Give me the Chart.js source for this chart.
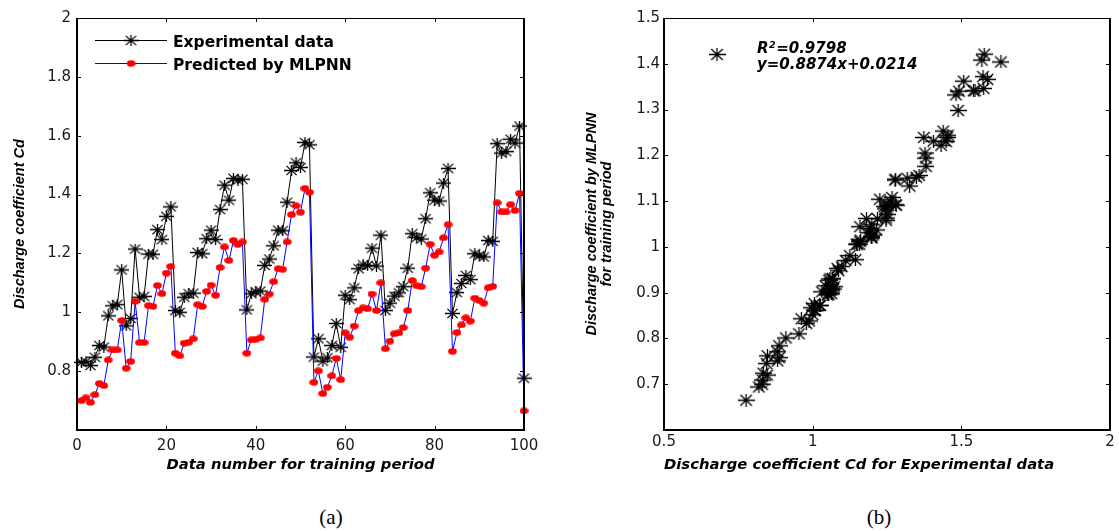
<!DOCTYPE html>
<html>
<head>
<meta charset="utf-8">
<script src="https://cdn.jsdelivr.net/npm/chart.js@4.4.0/dist/chart.umd.min.js"></script>
<style>
  html, body { margin: 0; padding: 0; background: #fff; }
  #wrap { position: relative; width: 1119px; height: 531px; overflow: hidden; }
  canvas { position: absolute; top: 0; }
  #chartA { left: 0; }
  #chartB { left: 560px; }
  .cap { position: absolute; font-family: "Liberation Serif", "Times New Roman", serif; font-size: 21px; line-height: 21px; color: #000; transform: translateX(-50%); white-space: nowrap; }
</style>
</head>
<body>
<div id="wrap">
  <canvas id="chartA" width="560" height="490"></canvas>
  <canvas id="chartB" width="559" height="490"></canvas>
  <div class="cap" style="left:331px; top:507px;">(a)</div>
  <div class="cap" style="left:879px; top:507px;">(b)</div>
</div>
<script>
// Training samples 1..100
const sampleNo = Array.from({ length: 100 }, (_, i) => i + 1);

// Discharge coefficient Cd measured in the lab
const experimentalCd = [
  0.830, 0.832, 0.819, 0.847, 0.887, 0.882, 0.988, 1.022, 1.026, 1.144,
  0.954, 0.979, 1.215, 1.051, 1.054, 1.198, 1.197, 1.281, 1.247, 1.326,
  1.358, 1.006, 1.000, 1.051, 1.063, 1.065, 1.203, 1.199, 1.250, 1.279,
  1.247, 1.349, 1.432, 1.381, 1.455, 1.449, 1.452, 1.008, 1.063, 1.070,
  1.072, 1.159, 1.181, 1.226, 1.279, 1.277, 1.374, 1.482, 1.508, 1.492,
  1.577, 1.569, 0.848, 0.910, 0.834, 0.845, 0.887, 0.962, 0.881, 1.058,
  1.043, 1.083, 1.148, 1.161, 1.159, 1.218, 1.157, 1.262, 1.006, 1.031,
  1.055, 1.066, 1.087, 1.150, 1.267, 1.254, 1.249, 1.318, 1.406, 1.381,
  1.378, 1.439, 1.489, 0.996, 1.067, 1.098, 1.125, 1.111, 1.199, 1.192,
  1.188, 1.244, 1.241, 1.573, 1.541, 1.546, 1.588, 1.575, 1.633, 0.776
];

// Cd predicted by the MLPNN model
const predictedCd = [
  0.700, 0.709, 0.694, 0.720, 0.758, 0.751, 0.838, 0.872, 0.872, 0.972,
  0.810, 0.833, 1.037, 0.897, 0.897, 1.023, 1.020, 1.091, 1.063, 1.133,
  1.156, 0.861, 0.852, 0.895, 0.898, 0.910, 1.026, 1.020, 1.071, 1.092,
  1.058, 1.152, 1.222, 1.176, 1.244, 1.230, 1.239, 0.861, 0.906, 0.908,
  0.913, 1.044, 1.062, 1.104, 1.148, 1.146, 1.239, 1.332, 1.362, 1.340,
  1.421, 1.408, 0.762, 0.801, 0.724, 0.745, 0.784, 0.843, 0.771, 0.930,
  0.915, 0.953, 1.006, 1.015, 1.012, 1.062, 1.006, 1.100, 0.876, 0.902,
  0.927, 0.930, 0.948, 1.006, 1.108, 1.090, 1.087, 1.150, 1.231, 1.194,
  1.205, 1.253, 1.298, 0.867, 0.931, 0.957, 0.981, 0.970, 1.048, 1.040,
  1.031, 1.083, 1.088, 1.372, 1.341, 1.341, 1.366, 1.346, 1.404, 0.665
];

// linear fit of predicted vs experimental
const rSquared = 0.9798;
const fitSlope = 0.8874;
const fitIntercept = 0.0214;

// axis ticks
const sampleTicks = [0, 20, 40, 60, 80, 100];
const cdTicksA = [0.6, 0.8, 1, 1.2, 1.4, 1.6, 1.8, 2];
const cdTicksX = [0.5, 1, 1.5, 2];
const cdTicksY = [0.6, 0.7, 0.8, 0.9, 1, 1.1, 1.2, 1.3, 1.4, 1.5];

const TICK_FONT = { family: '"DejaVu Sans", sans-serif', size: 15 };
const TITLE_X_FONT = { family: '"DejaVu Sans", sans-serif', size: 14.8, weight: 'bold', style: 'italic' };
const TITLE_Y_FONT = { family: '"Liberation Sans", Arial, sans-serif', size: 14.5, weight: 'bold', style: 'italic' };

// MATLAB-like markers: '*' asterisk and filled dot
function asterisk(w, h, lw) {
  const c = document.createElement('canvas');
  c.width = w; c.height = h;
  const g = c.getContext('2d');
  const cx = w / 2, cy = h / 2;
  g.strokeStyle = '#000';
  g.lineWidth = lw;
  g.beginPath();
  g.moveTo(0, cy); g.lineTo(w, cy);
  g.moveTo(cx, 0); g.lineTo(cx, h);
  g.moveTo(cx - w * 0.34, cy - h * 0.42); g.lineTo(cx + w * 0.34, cy + h * 0.42);
  g.moveTo(cx - w * 0.34, cy + h * 0.42); g.lineTo(cx + w * 0.34, cy - h * 0.42);
  g.stroke();
  return c;
}

function dot(w, h, color) {
  const c = document.createElement('canvas');
  c.width = w; c.height = h;
  const g = c.getContext('2d');
  g.fillStyle = color;
  g.beginPath();
  g.ellipse(w / 2, h / 2, w / 2 - 0.2, h / 2 - 0.2, 0, 0, Math.PI * 2);
  g.fill();
  return c;
}

const starA = asterisk(15, 11, 1.3);
const starB = asterisk(17, 13, 1.3);
const redDot = dot(9, 7, '#ff0000');

function fixedTicks(values) {
  return (scale) => { scale.ticks = values.map((value) => ({ value })); };
}

function skipFirst(values) {
  return (v) => (v === values[0] ? '' : String(v));
}

// box with inward tick marks on all four sides
const matlabFrame = {
  id: 'matlabFrame',
  afterDraw(chart) {
    const { ctx, chartArea: a, scales: { x, y } } = chart;
    const len = 4;
    ctx.save();
    ctx.strokeStyle = '#000';
    ctx.lineWidth = 1;
    ctx.beginPath();
    x.ticks.forEach((t) => {
      const px = Math.round(x.getPixelForValue(t.value)) + 0.5;
      ctx.moveTo(px, a.bottom); ctx.lineTo(px, a.bottom - len);
      ctx.moveTo(px, a.top); ctx.lineTo(px, a.top + len);
    });
    y.ticks.forEach((t) => {
      const py = Math.round(y.getPixelForValue(t.value)) + 0.5;
      ctx.moveTo(a.left, py); ctx.lineTo(a.left + len, py);
      ctx.moveTo(a.right, py); ctx.lineTo(a.right - len, py);
    });
    ctx.stroke();

    ctx.lineWidth = 1.2;
    ctx.beginPath();
    ctx.moveTo(a.left, a.top + 0.5); ctx.lineTo(a.right, a.top + 0.5);
    ctx.stroke();
    ctx.lineWidth = 2;
    ctx.beginPath();
    ctx.moveTo(a.left, a.top); ctx.lineTo(a.left, a.bottom);
    ctx.lineTo(a.right, a.bottom); ctx.lineTo(a.right, a.top);
    ctx.stroke();
    ctx.restore();
  }
};

// legend for the time series, drawn inside the axes
const seriesLegend = {
  id: 'seriesLegend',
  afterDraw(chart) {
    const { ctx } = chart;
    const rows = [
      { ds: chart.data.datasets[0], y: 40, img: starA },
      { ds: chart.data.datasets[1], y: 63, img: redDot }
    ];
    ctx.save();
    ctx.font = 'bold 15.5px "DejaVu Sans", sans-serif';
    ctx.textBaseline = 'alphabetic';
    rows.forEach((r) => {
      ctx.strokeStyle = r.ds.borderColor;
      ctx.lineWidth = 1;
      ctx.beginPath();
      ctx.moveTo(95, r.y + 0.5); ctx.lineTo(167, r.y + 0.5);
      ctx.stroke();
      ctx.drawImage(r.img, 131 - r.img.width / 2, r.y + 0.5 - r.img.height / 2);
      ctx.fillStyle = '#000';
      ctx.fillText(r.ds.label, 173, r.y + 6.5);
    });
    ctx.restore();
  }
};

// regression legend for the scatter panel
const fitLegend = {
  id: 'fitLegend',
  afterDraw(chart) {
    const { ctx } = chart;
    const x0 = 197;
    ctx.save();
    ctx.drawImage(starB, 157 - starB.width / 2, 54.5 - starB.height / 2);
    ctx.fillStyle = '#000';
    ctx.textBaseline = 'alphabetic';
    ctx.font = 'italic bold 15px "DejaVu Sans", sans-serif';
    ctx.fillText('R', x0, 53);
    const rw = ctx.measureText('R').width;
    ctx.font = 'italic bold 9.5px "DejaVu Sans", sans-serif';
    ctx.fillText('2', x0 + rw + 0.5, 48);
    const sw = ctx.measureText('2').width;
    ctx.font = 'italic bold 15px "DejaVu Sans", sans-serif';
    ctx.fillText('=' + rSquared.toFixed(4), x0 + rw + sw + 1, 53);
    ctx.fillText('y=' + fitSlope.toFixed(4) + 'x+' + fitIntercept.toFixed(4), x0, 68.5);
    ctx.restore();
  }
};

Chart.defaults.font.family = '"DejaVu Sans", sans-serif';
Chart.defaults.color = '#1a1a1a';

new Chart(document.getElementById('chartA'), {
  type: 'line',
  data: {
    datasets: [
      {
        label: 'Experimental data',
        data: sampleNo.map((n, i) => ({ x: n, y: experimentalCd[i] })),
        borderColor: '#000000',
        borderWidth: 1,
        pointStyle: starA,
        pointRadius: 5,
        tension: 0,
        clip: false,
        order: 2
      },
      {
        label: 'Predicted by MLPNN',
        data: sampleNo.map((n, i) => ({ x: n, y: predictedCd[i] })),
        borderColor: '#0000ff',
        borderWidth: 1,
        pointStyle: redDot,
        pointRadius: 4,
        tension: 0,
        clip: false,
        order: 1
      }
    ]
  },
  options: {
    responsive: false,
    animation: false,
    events: [],
    layout: { padding: { left: 0, top: 18, right: 36, bottom: 0 } },
    plugins: { legend: { display: false }, tooltip: { enabled: false } },
    scales: {
      x: {
        type: 'linear',
        min: 0,
        max: 100,
        afterBuildTicks: fixedTicks(sampleTicks),
        afterFit: (s) => { s.height = 60; },
        grid: { display: false, drawTicks: false },
        border: { display: false },
        ticks: { font: TICK_FONT, padding: 7, maxRotation: 0, callback: (v) => String(v) },
        title: {
          display: true,
          text: 'Data number for training period',
          font: TITLE_X_FONT,
          color: '#000',
          padding: { top: 0, bottom: 16.2 }
        }
      },
      y: {
        min: 0.6,
        max: 2,
        afterBuildTicks: fixedTicks(cdTicksA),
        afterFit: (s) => { s.width = 77; },
        grid: { display: false, drawTicks: false },
        border: { display: false },
        ticks: { font: TICK_FONT, padding: 6, callback: skipFirst(cdTicksA) },
        title: {
          display: true,
          text: 'Discharge coefficient Cd',
          font: TITLE_Y_FONT,
          color: '#000',
          padding: { top: 10.8, bottom: 0 }
        }
      }
    }
  },
  plugins: [matlabFrame, seriesLegend]
});

new Chart(document.getElementById('chartB'), {
  type: 'scatter',
  data: {
    datasets: [
      {
        label: 'R2=' + rSquared,
        data: experimentalCd.map((v, i) => ({ x: v, y: predictedCd[i] })),
        pointStyle: starB,
        pointRadius: 6,
        clip: false
      }
    ]
  },
  options: {
    responsive: false,
    animation: false,
    events: [],
    layout: { padding: { left: 0, top: 18, right: 9, bottom: 0 } },
    plugins: { legend: { display: false }, tooltip: { enabled: false } },
    scales: {
      x: {
        type: 'linear',
        min: 0.5,
        max: 2,
        afterBuildTicks: fixedTicks(cdTicksX),
        afterFit: (s) => { s.height = 60; },
        grid: { display: false, drawTicks: false },
        border: { display: false },
        ticks: { font: TICK_FONT, padding: 3, maxRotation: 0, callback: (v) => String(v) },
        title: {
          display: true,
          align: 'start',
          text: 'Discharge coefficient Cd for Experimental data',
          font: TITLE_X_FONT,
          color: '#000',
          padding: { top: 0, bottom: 16.2 }
        }
      },
      y: {
        min: 0.6,
        max: 1.5,
        afterBuildTicks: fixedTicks(cdTicksY),
        afterFit: (s) => { s.width = 104; },
        grid: { display: false, drawTicks: false },
        border: { display: false },
        ticks: { font: TICK_FONT, padding: 4, callback: skipFirst(cdTicksY) },
        title: {
          display: true,
          text: ['Discharge coefficient by MLPNN', 'for training period'],
          font: { ...TITLE_Y_FONT, lineHeight: '15px' },
          color: '#000',
          padding: { top: 24.5, bottom: 0 }
        }
      }
    }
  },
  plugins: [matlabFrame, fitLegend]
});
</script>
</body>
</html>
